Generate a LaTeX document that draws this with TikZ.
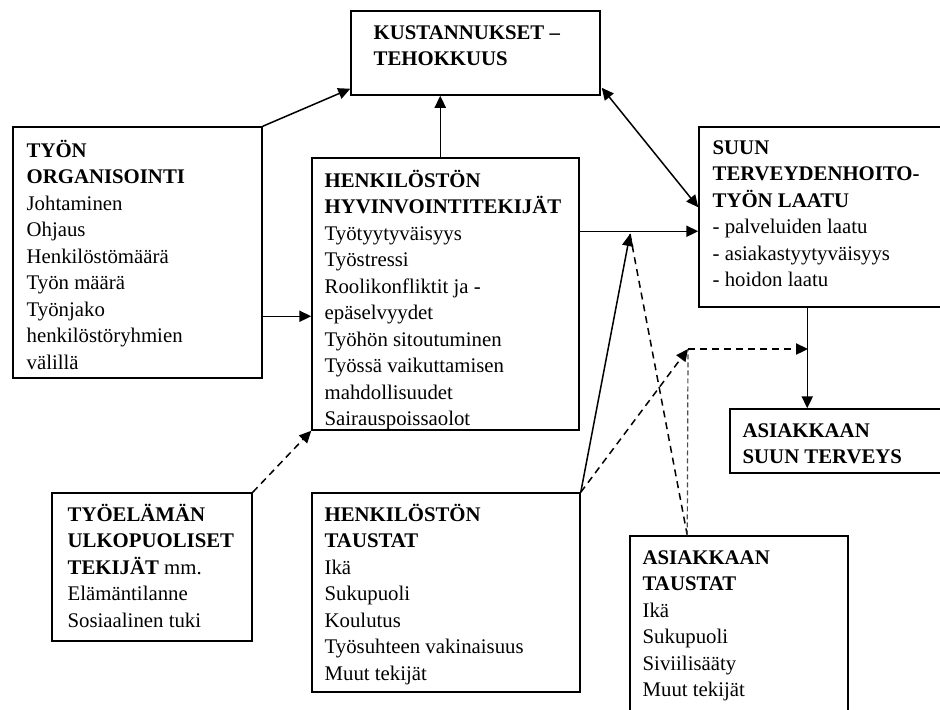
\documentclass[tikz,border=0pt]{standalone}
\usepackage{fontspec}
\setmainfont{Liberation Serif}
\usetikzlibrary{arrows.meta,fit,calc}
\begin{document}
\begin{tikzpicture}[x=0.5pt,y=-0.5pt,
  box/.style={draw, line width=0.75pt, inner sep=0pt},
  txt/.style={anchor=north west, inner sep=0pt, align=left, font=\fontsize{10.4}{13.25}\selectfont},
  tipA/.tip={Triangle[length=6pt,width=5.6pt]},
  conn/.style={line width=0.75pt, -tipA},
  dsh/.style={dash pattern=on 3.5pt off 2.5pt},
  fine/.style={line width=0.6pt, gray!60!black, dash pattern=on 2.5pt off 1.5pt}]
\useasboundingbox (0,0) rectangle (940,709);
\clip (0,0) rectangle (940,709);
\fill[white] (0,0) rectangle (940,709);

% boxes
\node[box, fit={(351,11)(600,95)}] (kust) {};
\node[box, fit={(13,127)(262,378)}] (org) {};
\node[box, fit={(312,158)(579,430)}] (hyv) {};
\node[box, fit={(699,127)(970,307)}] (suun) {};
\node[box, fit={(730,409)(970,473)}] (ast) {};
\node[box, fit={(52,493)(252,641)}] (tyo) {};
\node[box, fit={(312,493)(580,692)}] (htau) {};
\node[box, fit={(630,536)(848,730)}] (atau) {};

% texts
\node[txt] at ($(kust.north west)+(23,10)$) {\strut\textbf{KUSTANNUKSET –}\\\textbf{TEHOKKUUS}};
\node[txt] at ($(org.north west)+(14,12)$) {\strut\textbf{TYÖN}\\\textbf{ORGANISOINTI}\\Johtaminen\\Ohjaus\\Henkilöstömäärä\\Työn määrä\\Työnjako\\henkilöstöryhmien\\välillä};
\node[txt] at ($(hyv.north west)+(13,11)$) {\strut\textbf{HENKILÖSTÖN}\\\textbf{HYVINVOINTITEKIJÄT}\\Työtyytyväisyys\\Työstressi\\Roolikonfliktit ja -\\epäselvyydet\\Työhön sitoutuminen\\Työssä vaikuttamisen\\mahdollisuudet\\Sairauspoissaolot};
\node[txt] at ($(suun.north west)+(14,9)$) {\strut\textbf{SUUN}\\\textbf{TERVEYDENHOITO-}\\\textbf{TYÖN LAATU}\\- palveluiden laatu\\- asiakastyytyväisyys\\- hoidon laatu};
\node[txt] at ($(ast.north west)+(13,10)$) {\strut\textbf{ASIAKKAAN}\\\textbf{SUUN TERVEYS}};
\node[txt] at ($(tyo.north west)+(16,10)$) {\strut\textbf{TYÖELÄMÄN}\\\textbf{ULKOPUOLISET}\\\textbf{TEKIJÄT} mm.\\Elämäntilanne\\Sosiaalinen tuki};
\node[txt] at ($(htau.north west)+(13,10)$) {\strut\textbf{HENKILÖSTÖN}\\\textbf{TAUSTAT}\\Ikä\\Sukupuoli\\Koulutus\\Työsuhteen vakinaisuus\\Muut tekijät};
\node[txt] at ($(atau.north west)+(13,10)$) {\strut\textbf{ASIAKKAAN}\\\textbf{TAUSTAT}\\Ikä\\Sukupuoli\\Siviilisääty\\Muut tekijät};

% junction points
\coordinate (tip) at (630,234);
\coordinate (mid) at (688,349);
\coordinate (jn) at (808,349);

% connectors
\draw[conn] (org.north east) -- ($(kust.south west)+(0,-7)$);
\draw[conn] ($(hyv.north west)+(129,0)$) -- ($(kust.south west)+(90,0)$);
\draw[conn, tipA-tipA] ($(kust.south east)+(1,-8)$) -- ($(suun.north west)+(0,81)$);
\draw[conn] ($(hyv.north east)+(0,74)$) -- ($(suun.north west)+(0,105)$);
\draw[conn] ($(org.north east)+(0,190)$) -- ($(hyv.north west)+(0,159)$);
\draw[conn, dsh] (tyo.north east) -- (hyv.south west);
\draw[conn] (htau.north east) -- (tip);
\draw[line width=0.75pt, dsh] ($(atau.north west)+(58,0)$) -- (tip);
\draw[conn, dsh] (htau.north east) -- (mid);
\draw[fine] ($(atau.north west)+(58,0)$) -- (mid);
\draw[conn, dsh] (mid) -- (jn);
\draw[conn] ($(suun.south west)+(109,0)$) -- ($(ast.north west)+(78,0)$);
\end{tikzpicture}
\end{document}
